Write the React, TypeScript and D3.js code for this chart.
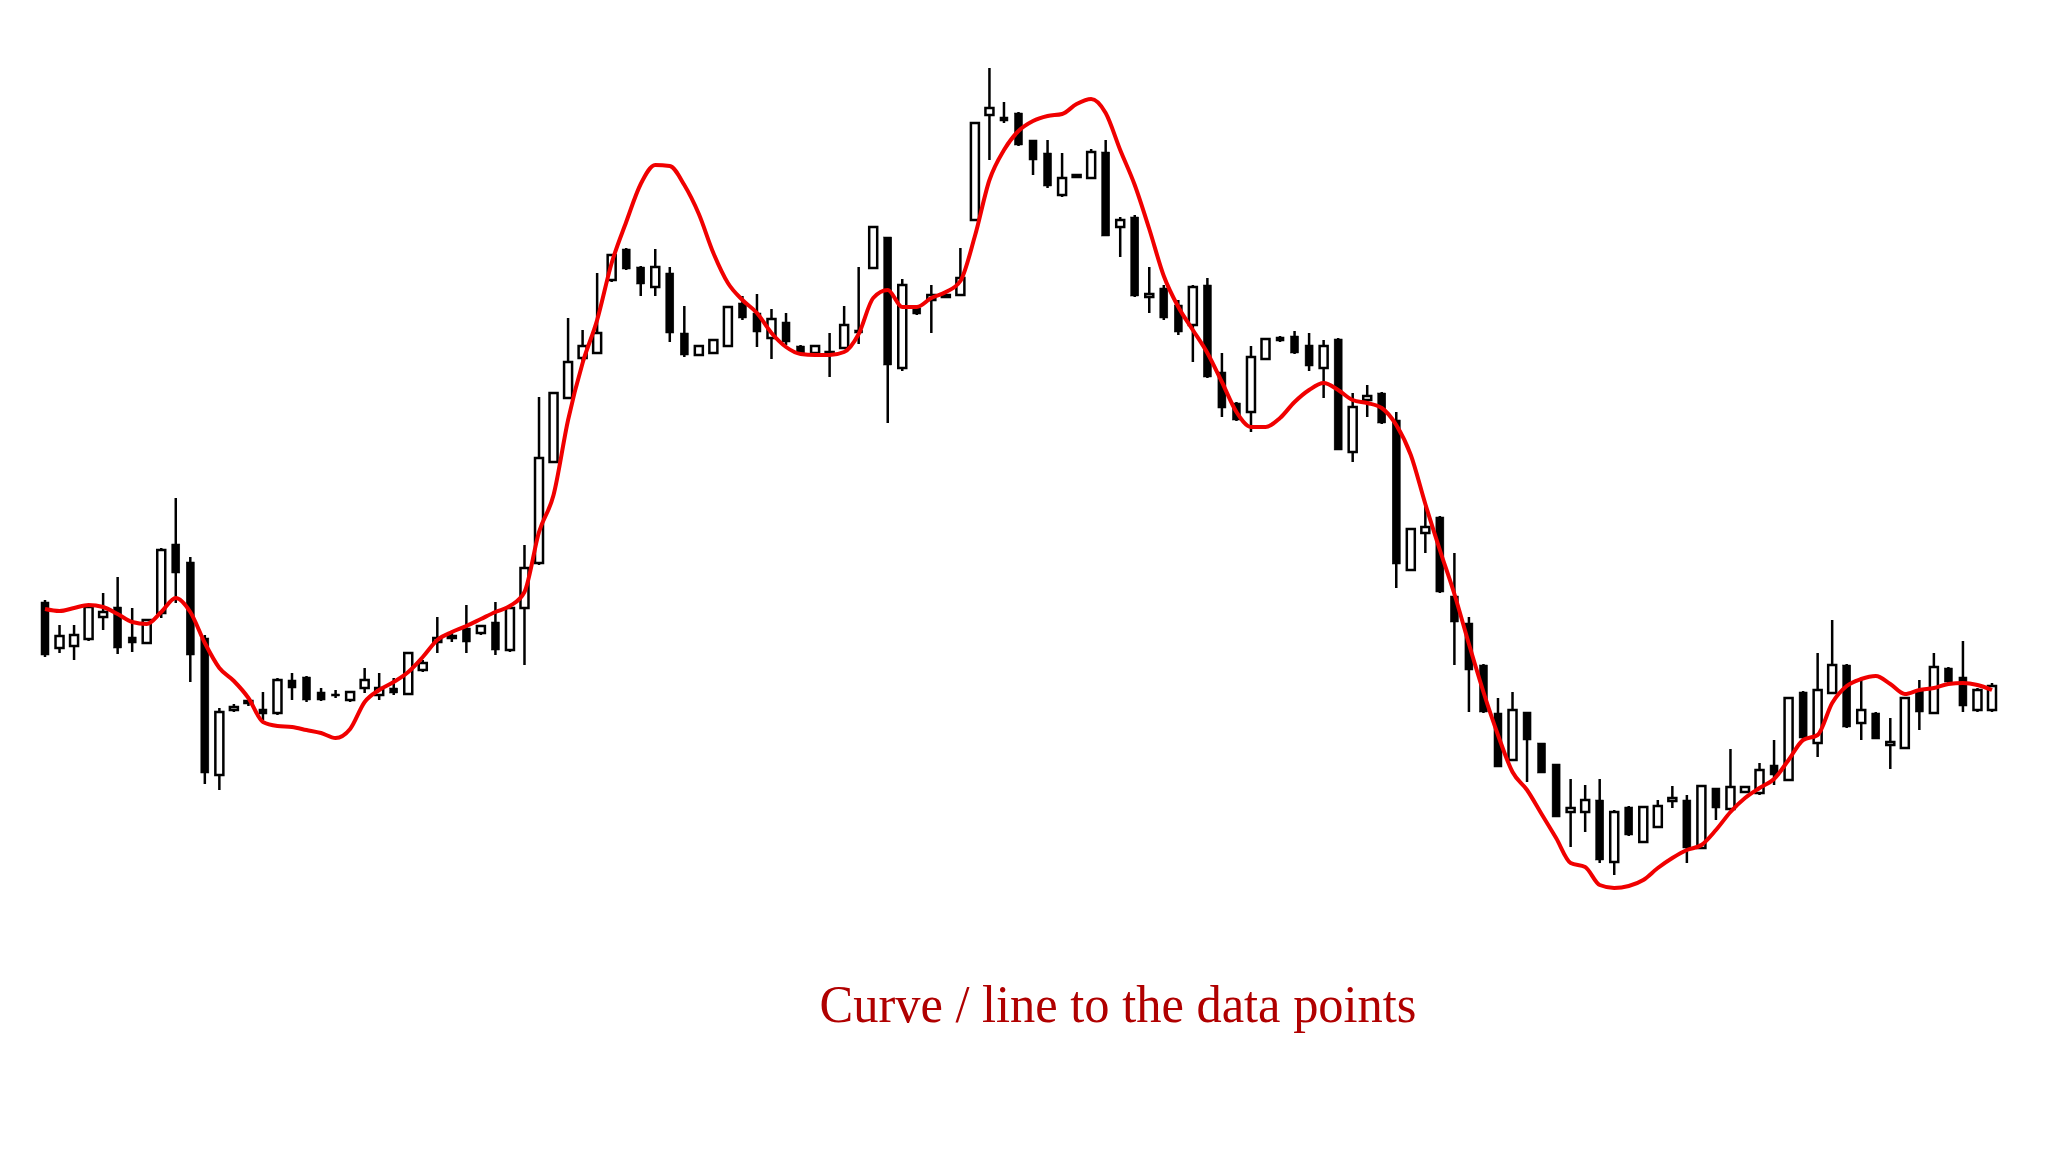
import React from 'react';
import * as d3 from 'd3';

// candle values (arbitrary price units)
const opens = [398,352,354,361,383,393,363,357,387,456,438,362,225,290,297,291,287,320,323,308,306,300,312,305,312,306,330,358,362,372,367,378,350,392,437,538,602,642,647,720,751,733,713,727,667,645,647,654,697,687,662,678,654,647,646,652,670,732,763,632,692,700,704,705,780,885,883,887,860,847,805,824,822,848,773,783,703,712,695,675,715,628,597,588,641,663,664,655,632,661,548,600,607,580,430,467,483,404,377,335,287,240,288,257,236,188,188,200,138,193,158,173,199,200,152,212,191,208,207,235,220,308,257,307,335,277,287,255,252,310,287,332,323,290,290];
const highs = [400,375,375,395,407,423,392,380,452,502,443,365,292,296,300,308,322,327,324,312,310,308,332,327,322,347,340,383,368,395,375,398,395,455,603,607,682,670,727,745,752,734,751,733,694,655,661,694,704,706,691,687,655,654,667,694,733,773,763,721,693,715,706,752,877,932,898,888,860,860,847,826,851,860,783,785,733,715,700,715,722,647,598,654,661,664,669,667,660,662,607,615,608,588,471,495,484,447,383,336,302,308,288,257,236,221,215,221,190,194,193,200,214,205,214,212,251,214,237,260,302,309,347,380,336,322,288,282,302,320,347,333,359,312,317];
const lows = [343,347,340,359,370,346,348,357,382,397,318,216,210,288,294,280,285,300,298,299,302,298,307,300,305,306,328,347,358,347,365,345,348,335,435,538,602,638,647,718,730,704,704,658,643,644,646,653,680,653,641,655,646,646,623,651,656,732,577,629,685,667,703,704,779,840,877,854,825,812,803,823,821,764,743,703,687,680,665,638,622,583,579,568,641,658,646,629,602,550,538,583,576,412,430,447,407,335,288,287,233,239,218,227,183,153,168,137,125,164,157,172,192,137,152,180,190,207,205,215,219,261,243,306,272,260,261,231,252,270,286,317,288,288,288];
const closes = [345,364,365,393,388,352,357,380,450,427,345,227,288,293,299,286,320,312,300,300,305,308,320,312,307,347,337,362,364,358,374,350,392,432,542,607,638,654,667,745,731,716,733,667,645,654,660,693,682,668,681,658,647,654,648,675,667,773,635,715,686,705,705,722,877,892,879,855,840,814,822,825,848,764,780,704,706,682,668,713,623,592,580,643,661,659,647,634,654,550,593,604,577,436,471,473,408,378,330,288,233,290,260,227,183,192,200,140,188,165,193,194,202,152,214,192,213,213,230,225,302,262,310,335,273,290,261,258,302,288,333,318,294,310,314];
// the red curve, one reading per candle
const curve = [391,389,392,395,393,386,378,376,388,402,388,357,332,319,302,278,274,273,270,267,262,271,298,310,318,328,343,360,368,374,381,388,394,408,468,505,580,637,680,737,778,816,835,834,815,786,747,717,700,687,667,653,646,645,645,648,666,702,710,693,693,702,708,719,764,820,850,869,879,884,886,896,901,887,850,815,771,724,693,670,647,618,588,573,573,582,598,610,617,610,600,597,592,575,545,496,450,406,356,308,265,228,210,186,162,137,133,115,112,114,120,132,142,150,155,170,188,202,212,221,240,260,265,297,314,321,324,316,306,310,312,316,317,315,310];

const title = 'Curve / line to the data points';

export default function App() {
  const W = 2048;
  const H = 1152;
  const x = d3.scaleLinear().domain([0, opens.length - 1]).range([45, 1992]);
  const y = d3.scaleLinear().domain([100, 940]).range([900, 60]);
  const bw = 8;

  const line = d3.line<number>()
    .x((_, i) => x(i))
    .y(d => y(d))
    .curve(d3.curveMonotoneX);

  return (
    <svg width={W} height={H} style={{ position: 'absolute', left: 0, top: 0, background: '#fff' }}>
      <rect width={W} height={H} fill="#fff" />
      <g>
        {opens.map((o, i) => {
          const c = closes[i];
          const up = c >= o;
          const cx = x(i);
          const top = y(Math.max(o, c));
          const bot = y(Math.min(o, c));
          return (
            <g key={i}>
              <line x1={cx} x2={cx} y1={y(highs[i])} y2={y(lows[i])} stroke="#000" strokeWidth={2.5} />
              <rect
                x={cx - bw / 2}
                y={top}
                width={bw}
                height={Math.max(bot - top, 2)}
                fill={up ? '#fff' : '#000'}
                stroke="#000"
                strokeWidth={up ? 2.5 : 0.5}
              />
            </g>
          );
        })}
      </g>
      <path d={line(curve) || ''} fill="none" stroke="#f00000" strokeWidth={4} />
      <text
        x={1118}
        y={1022}
        textAnchor="middle"
        fontFamily="'Liberation Serif', 'DejaVu Serif', serif"
        fontSize={52}
        fill="#b00000"
        textLength={597}
        lengthAdjust="spacingAndGlyphs"
      >
        {title}
      </text>
    </svg>
  );
}
